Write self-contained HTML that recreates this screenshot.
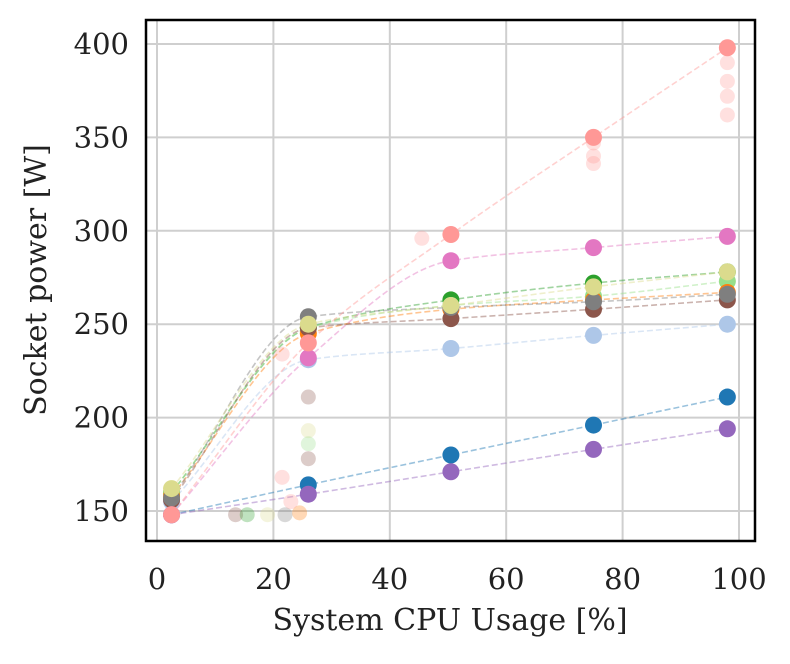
<!DOCTYPE html>
<html><head><meta charset="utf-8"><style>
body{margin:0;background:#fff;width:790px;height:659px;overflow:hidden}
text{font-family:"DejaVu Serif","Liberation Serif",serif;fill:#222}
</style></head><body>
<svg id="chart" width="790" height="659"></svg>
<script>
const xTicks=[0,20,40,60,80,100];
const yTicks=[150,200,250,300,350,400];
const xs=[2.5,26,50.5,75,98];
const colors=["#1f77b4","#9467bd","#aec7e8","#2ca02c","#98df8a","#ff7f0e","#8c564b","#7f7f7f","#dbdb8d","#e377c2","#ff9896"];
const names=["blue","purple","lightblue","green","lightgreen","orange","brown","gray","olive","pink","salmon"];
const s0=[148,148,155,160,160,158,156,157,162,148,148];
const s1=[164,159,231,248,248,245,248,254,250,232,240];
const s2=[180,171,237,263,260,258,253,259,260,284,298];
const s3=[196,183,244,272,265,263,258,262,270,291,350];
const s4=[211,194,250,278,273,267,263,266,278,297,398];
const fadedX=[13.5,15.5,19,22,24.5,45.5,21.5,21.5,23,26,26,26,26,75,75,75,98,98,98,98];
const fadedY=[148,148,148,148,149,296,234,168,155,211,193,186,178,336,340,347,362,372,380,390];
const fadedC=[6,3,8,7,5,10,10,10,10,6,8,4,6,10,10,10,10,10,10,10];
const L=146,R=755,T=20,B=541;
const X=v=>157+v*5.82, Y=v=>511-(v-150)*1.868;
const svg=document.getElementById('chart');const NS="http://www.w3.org/2000/svg";
function el(t,a,p){const e=document.createElementNS(NS,t);for(const k in a)e.setAttribute(k,a[k]);(p||svg).appendChild(e);return e;}
xTicks.forEach(t=>{const g=el('line',{x1:X(t),x2:X(t),y1:T,y2:B,stroke:'#cfcfcf','stroke-width':2});


const tx=el('text',{x:X(t),y:589,'text-anchor':'middle','font-size':29});tx.textContent=t;

});
yTicks.forEach(t=>{const g=el('line',{x1:L,x2:R,y1:Y(t),y2:Y(t),stroke:'#cfcfcf','stroke-width':2});


const tx=el('text',{x:129,y:Y(t)+10,'text-anchor':'end','font-size':29});tx.textContent=t;

});
function mono(p){const n=p.length,dx=[],m=[],t=[];for(let i=0;i<n-1;i++){dx.push(p[i+1][0]-p[i][0]);m.push((p[i+1][1]-p[i][1])/dx[i]);}
t[0]=m[0];t[n-1]=m[n-2];for(let i=1;i<n-1;i++){t[i]=(m[i-1]*m[i]<=0)?0:2/(1/m[i-1]+1/m[i]);}
let d=`M${p[0][0]},${p[0][1]}`;for(let i=0;i<n-1;i++){const h=dx[i]/3;d+=` C${p[i][0]+h},${p[i][1]+t[i]*h} ${p[i+1][0]-h},${p[i+1][1]-t[i+1]*h} ${p[i+1][0]},${p[i+1][1]}`;}return d;}
const series=[s0,s1,s2,s3,s4];
colors.forEach((c,i)=>{const pts=xs.map((x,j)=>[X(x),Y(series[j][i])]);
const p=el('path',{d:mono(pts),fill:'none',stroke:c,'stroke-width':1.6,'stroke-dasharray':'6,3',opacity:0.45});

});
fadedX.forEach((x,i)=>{const c=el('circle',{cx:X(x),cy:Y(fadedY[i]),r:7.5,fill:colors[fadedC[i]],opacity:0.3});

});
colors.forEach((c,i)=>{xs.forEach((x,j)=>{const d=el('circle',{cx:X(x),cy:Y(series[j][i]),r:8.5,fill:c});

});});
const f=el('rect',{x:L,y:T,width:R-L,height:B-T,fill:'none',stroke:'#000','stroke-width':2.5});


const xl=el('text',{x:450,y:630,'text-anchor':'middle','font-size':30});xl.textContent='System CPU Usage [%]';


const yl=el('text',{x:0,y:0,'text-anchor':'middle','font-size':30,transform:'translate(46,280) rotate(-90)'});yl.textContent='Socket power [W]';


</script>
</body></html>
